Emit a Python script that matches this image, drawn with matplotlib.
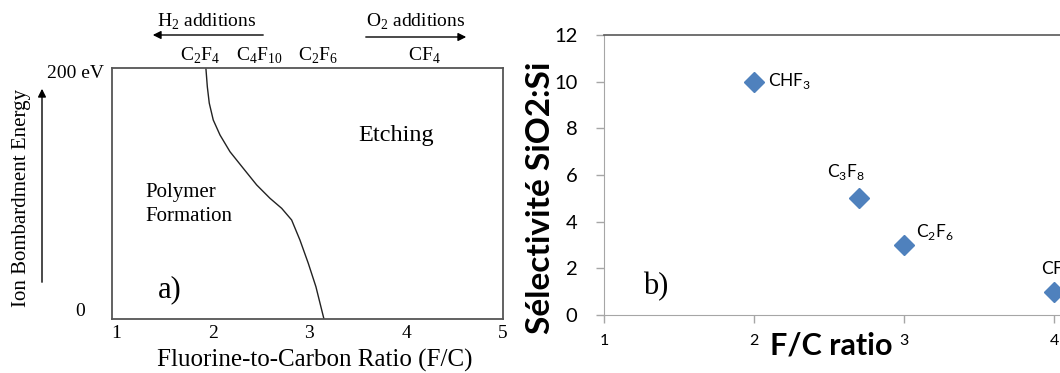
import matplotlib
matplotlib.use("Agg")
import matplotlib.pyplot as plt
from matplotlib.patches import FancyArrowPatch

# ---------------- data ----------------
# Panel a: boundary between polymer formation and etching (F/C ratio vs ion energy, eV)
boundary_fc = [1.93, 1.945, 1.965, 2.006, 2.076, 2.179, 2.316, 2.455, 2.592, 2.713,
               2.816, 2.902, 2.988, 3.067, 3.15]
boundary_ev = [200, 185, 172, 158.6, 146.6, 133.3, 120.1, 106.8, 96.2, 88.2,
               78.9, 62.9, 44.4, 25.7, 0]
a_xticks = [1, 2, 3, 4, 5]
gas_labels_a = [r"C$_\mathregular{2}$F$_\mathregular{4}$",
                r"C$_\mathregular{4}$F$_\mathregular{10}$",
                r"C$_\mathregular{2}$F$_\mathregular{6}$",
                r"CF$_\mathregular{4}$"]

# Panel b: selectivity SiO2:Si vs F/C ratio
gases_b = [r"CHF$_\mathregular{3}$", r"C$_\mathregular{3}$F$_\mathregular{8}$",
           r"C$_\mathregular{2}$F$_\mathregular{6}$", r"CF$_\mathregular{4}$"]
fc_ratio_b = [2.0, 2.7, 3.0, 4.0]
selectivity_b = [10, 5, 3, 1]
b_xticks = [1, 2, 3, 4, 5]
b_yticks = [0, 2, 4, 6, 8, 10, 12]

# ---------------- layout helpers ----------------
W, H = 1060, 373
fig = plt.figure(figsize=(W / 100, H / 100), dpi=100)
def fx(px): return px / W
def fy(py): return 1 - py / H

SERIF = "Liberation Serif"
SANS = "Lato"

# ---------------- panel a ----------------
axa = fig.add_axes([fx(112), fy(319), (503 - 112) / W, (319 - 68) / H])
axa.plot(boundary_fc, boundary_ev, color="#222222", lw=1.0)
axa.set_xlim(0.96, 5.0)
axa.set_ylim(0, 200)
axa.set_xticks(a_xticks)
axa.set_xticklabels([str(t) for t in a_xticks], family=SERIF, fontsize=14)
axa.tick_params(axis="x", length=0, pad=4)
axa.set_yticks([])
for s in axa.spines.values():
    s.set_color("#555555")
    s.set_linewidth(1.3)

fig.text(fx(315), fy(360), "Fluorine-to-Carbon Ratio (F/C)", family=SERIF,
         fontsize=18, ha="center", va="center")
fig.text(fx(22), fy(198), "Ion Bombardment Energy", family=SERIF, fontsize=15,
         rotation=90, ha="center", va="center")
fig.text(fx(104), fy(74), "200 eV", family=SERIF, fontsize=14, ha="right", va="center")
fig.text(fx(80), fy(311), "0", family=SERIF, fontsize=14, ha="center", va="center")
fig.add_artist(FancyArrowPatch((fx(42), fy(285)), (fx(42), fy(86)),
                               transform=fig.transFigure, arrowstyle="-|>",
                               mutation_scale=12, color="black", lw=1.0))

for lab, px in zip(gas_labels_a, [200, 259, 318, 424]):
    fig.text(fx(px), fy(56), lab, family=SERIF, fontsize=14, ha="center", va="center")

fig.text(fx(207), fy(22), r"H$_\mathregular{2}$ additions", family=SERIF, fontsize=14,
         ha="center", va="center")
fig.text(fx(416), fy(22), r"O$_\mathregular{2}$ additions", family=SERIF, fontsize=14,
         ha="center", va="center")
fig.add_artist(FancyArrowPatch((fx(266), fy(35)), (fx(150), fy(35)),
                               transform=fig.transFigure, arrowstyle="-|>",
                               mutation_scale=12, color="black", lw=1.0))
fig.add_artist(FancyArrowPatch((fx(363), fy(37)), (fx(469), fy(37)),
                               transform=fig.transFigure, arrowstyle="-|>",
                               mutation_scale=12, color="black", lw=1.0))

fig.text(fx(396), fy(136), "Etching", family=SERIF, fontsize=17.5, ha="center", va="center")
fig.text(fx(145), fy(192), "Polymer", family=SERIF, fontsize=15, ha="left", va="center")
fig.text(fx(145), fy(216), "Formation", family=SERIF, fontsize=15, ha="left", va="center")
fig.text(fx(158), fy(290), "a)", family=SERIF, fontsize=22, ha="left", va="center")

# ---------------- panel b ----------------
axb = fig.add_axes([fx(604), fy(315), 600 / W, 280 / H])
axb.plot(fc_ratio_b, selectivity_b, linestyle="none", marker="D", markersize=10.5,
         color="#4f81bd")
axb.set_xlim(1, 5)
axb.set_ylim(0, 12)
axb.set_xticks(b_xticks)
axb.set_yticks(b_yticks)
axb.set_xticklabels([str(t) for t in b_xticks], family=SANS, fontsize=11.5)
axb.set_yticklabels([str(t) for t in b_yticks], family=SANS, fontsize=14.5)
axb.tick_params(axis="both", direction="out", length=6, color="#a6a6a6", width=1)
axb.tick_params(axis="x", pad=8)
axb.tick_params(axis="y", pad=13)
axb.spines["right"].set_visible(False)
axb.spines["left"].set_color("#a6a6a6")
axb.spines["bottom"].set_color("#a6a6a6")
axb.spines["top"].set_color("#595959")
axb.spines["top"].set_linewidth(1.2)

offsets = [(14, 1, "left", "center"), (-13, 26, "center", "center"),
           (12, 13, "left", "center"), (-13, 23, "left", "center")]
for lab, xv, yv, (dx, dy, ha, va) in zip(gases_b, fc_ratio_b, selectivity_b, offsets):
    axb.annotate(lab, (xv, yv), xytext=(dx, dy), textcoords="offset pixels",
                 family=SANS, fontsize=12.5, ha=ha, va=va)

fig.text(fx(831), fy(345), "F/C ratio", family=SANS, fontsize=22, fontweight="bold",
         ha="center", va="center")
fig.text(fx(540), fy(198), "Sélectivité SiO2:Si", family=SANS, fontsize=24,
         fontweight="bold", rotation=90, ha="center", va="center")
fig.text(fx(643), fy(287), "b)", family=SERIF, fontsize=22, ha="left", va="center")

fig.savefig("out.png", dpi=100)
